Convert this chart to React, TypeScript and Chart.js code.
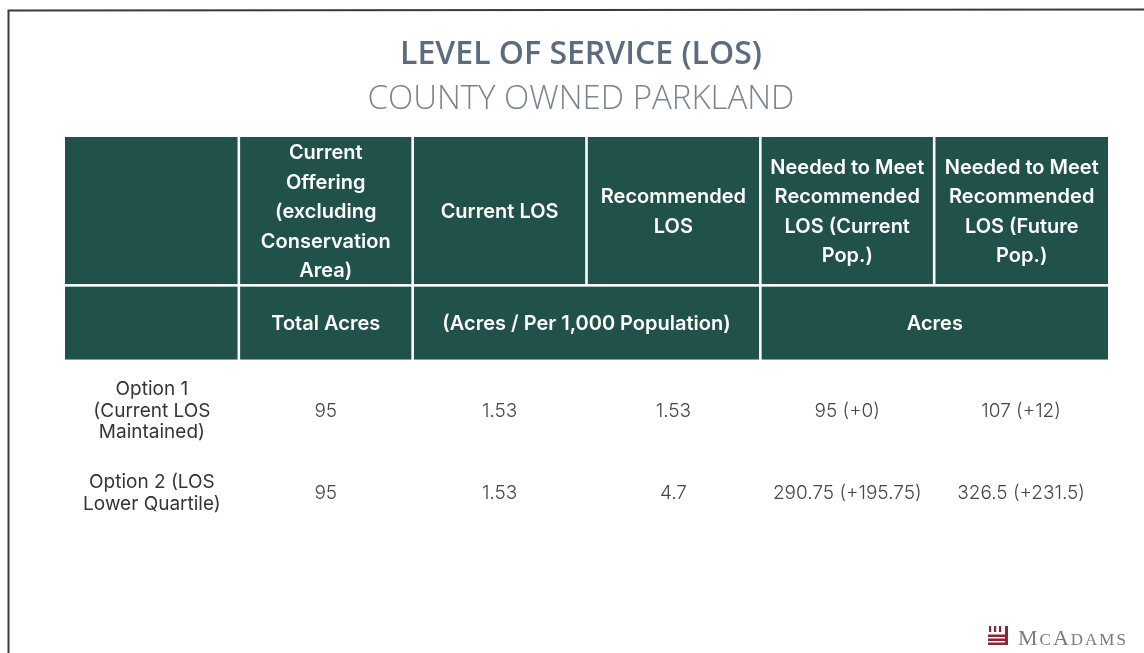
import React, { useEffect, useRef } from 'react';
import { Chart, registerables } from 'chart.js';

Chart.register(...registerables);

// ---------- data ----------
const titleText = 'LEVEL OF SERVICE (LOS)';
const subtitleText = 'COUNTY OWNED PARKLAND';

const headerLabels: string[][] = [
  [],
  ['Current', 'Offering', '(excluding', 'Conservation', 'Area)'],
  ['Current LOS'],
  ['Recommended', 'LOS'],
  ['Needed to Meet', 'Recommended', 'LOS (Current', 'Pop.)'],
  ['Needed to Meet', 'Recommended', 'LOS (Future', 'Pop.)'],
];
const unitLabels = ['', 'Total Acres', '(Acres / Per 1,000 Population)', 'Acres'];
const unitSpans = [1, 1, 2, 2];

const optionLabels: string[][] = [
  ['Option 1', '(Current LOS', 'Maintained)'],
  ['Option 2 (LOS', 'Lower Quartile)'],
];
const totalAcres = [95, 95];
const currentLOS = [1.53, 1.53];
const recommendedLOS = [1.53, 4.7];
const neededCurrentPop = [95, 290.75];
const neededCurrentPopDelta = [0, 195.75];
const neededFuturePop = [107, 326.5];
const neededFuturePopDelta = [12, 231.5];

const brandText = 'McAdams';

// ---------- layout (scale units) ----------
const COLS = 6;
const HEADER_ROW1 = [0, 2];
const HEADER_ROW2 = [2, 3];
const BODY_CENTERS = [3.694, 4.8];
const Y_MAX = 5.5;
const X_MIN = -0.0633;

const GREEN = '#20514a';
const HEADER_FONT = '600 20px Inter';
const HEADER_LINE = 29.5;
const LABEL_FONT = '400 19px Inter';
const VALUE_FONT = '300 19px Inter';
const BODY_LINE = 21.5;

function drawLines(ctx: CanvasRenderingContext2D, lines: string[], cx: number, cy: number, lh: number) {
  const start = cy - ((lines.length - 1) * lh) / 2;
  lines.forEach((l, i) => ctx.fillText(l, cx, start + i * lh));
}

const tablePlugin = {
  id: 'losTable',
  beforeDraw(chart: any) {
    const { ctx } = chart;
    ctx.save();
    ctx.fillStyle = '#ffffff';
    ctx.fillRect(0, 0, chart.width, chart.height);
    // page frame (scan border)
    ctx.strokeStyle = '#3a3a3a';
    ctx.lineWidth = 2;
    ctx.beginPath();
    ctx.moveTo(8.5, chart.height);
    ctx.lineTo(8.5, 10.5);
    ctx.lineTo(chart.width, 9.5);
    ctx.stroke();
    ctx.restore();
  },
  afterDraw(chart: any) {
    const { ctx } = chart;
    const x = chart.scales.x;
    const y = chart.scales.y;
    const g = 1.3;
    const cell = (c0: number, c1: number, r0: number, r1: number) => {
      const left = x.getPixelForValue(c0) + (c0 > 0 ? g : 0);
      const right = x.getPixelForValue(c1) - (c1 < COLS ? g : 0);
      const top = y.getPixelForValue(r0) + (r0 > 0 ? g : 0);
      const bottom = y.getPixelForValue(r1);
      return { left, right, top, bottom, cx: (left + right) / 2, cy: (top + bottom) / 2 };
    };
    ctx.save();
    ctx.textAlign = 'center';
    ctx.textBaseline = 'middle';
    // header row 1
    headerLabels.forEach((lines, i) => {
      const r = cell(i, i + 1, HEADER_ROW1[0], HEADER_ROW1[1]);
      ctx.fillStyle = GREEN;
      ctx.fillRect(r.left, r.top, r.right - r.left, r.bottom - r.top - g);
      ctx.fillStyle = '#ffffff';
      ctx.font = HEADER_FONT;
      drawLines(ctx, lines, r.cx, r.cy + 1, HEADER_LINE);
    });
    // header row 2 (units)
    let c = 0;
    unitLabels.forEach((label, i) => {
      const span = unitSpans[i];
      const r = cell(c, c + span, HEADER_ROW2[0], HEADER_ROW2[1]);
      ctx.fillStyle = GREEN;
      ctx.fillRect(r.left, r.top, r.right - r.left, r.bottom - r.top);
      ctx.fillStyle = '#ffffff';
      ctx.font = HEADER_FONT;
      ctx.fillText(label, r.cx, r.cy + 1);
      c += span;
    });
    // body rows
    optionLabels.forEach((lines, row) => {
      const cy = y.getPixelForValue(BODY_CENTERS[row]);
      const colX = (i: number) => x.getPixelForValue(i + 0.5);
      ctx.fillStyle = '#353535';
      ctx.font = LABEL_FONT;
      drawLines(ctx, lines, colX(0), cy, BODY_LINE);
      const values = [
        String(totalAcres[row]),
        String(currentLOS[row]),
        String(recommendedLOS[row]),
        `${neededCurrentPop[row]} (+${neededCurrentPopDelta[row]})`,
        `${neededFuturePop[row]} (+${neededFuturePopDelta[row]})`,
      ];
      ctx.fillStyle = '#474747';
      ctx.font = VALUE_FONT;
      values.forEach((v, i) => ctx.fillText(v, colX(i + 1), cy));
    });
    // brand mark
    ctx.fillStyle = '#8a2437';
    const bx = 988, by = 626;
    ctx.fillRect(bx + 1, by, 2.2, 6);
    ctx.fillRect(bx + 6, by, 2.2, 6);
    ctx.fillRect(bx + 11, by, 2.2, 6);
    ctx.fillRect(bx + 17, by, 3, 19);
    ctx.fillRect(bx, by + 8.5, 20, 2.5);
    ctx.fillRect(bx, by + 12.5, 20, 2.5);
    ctx.fillRect(bx, by + 16.5, 20, 2.5);
    // brand text (small caps)
    ctx.fillStyle = '#7a7a7a';
    ctx.textAlign = 'left';
    ctx.textBaseline = 'alphabetic';
    let tx = 1018;
    const base = 645;
    for (const ch of brandText) {
      const big = ch === ch.toUpperCase();
      ctx.font = big ? '400 22px "Liberation Serif"' : '400 17px "Liberation Serif"';
      const t = ch.toUpperCase();
      ctx.fillText(t, tx, base);
      tx += ctx.measureText(t).width + 2;
    }
    ctx.restore();
  },
};

export default function App() {
  const ref = useRef<HTMLCanvasElement | null>(null);
  useEffect(() => {
    if (!ref.current) return;
    const chart = new Chart(ref.current, {
      type: 'scatter',
      data: { datasets: [{ data: [], pointRadius: 0 }] },
      options: {
        animation: false,
        responsive: false,
        events: [],
        layout: { padding: { left: 54, right: 36, top: 0, bottom: 108 } },
        scales: {
          x: { type: 'linear', display: false, min: X_MIN, max: COLS },
          y: { type: 'linear', display: false, min: 0, max: Y_MAX, reverse: true },
        },
        plugins: {
          legend: { display: false },
          tooltip: { enabled: false },
          title: {
            display: true,
            text: titleText,
            color: '#5d6c7d',
            font: { family: '"Open Sans"', weight: '600', size: 32, lineHeight: '34px' },
            padding: { top: 38, bottom: 0 },
          },
          subtitle: {
            display: true,
            text: subtitleText,
            color: '#7b8591',
            font: { family: '"Open Sans"', weight: '300', size: 33, lineHeight: '34px' },
            padding: { top: 11, bottom: 20 },
          },
        },
      },
      plugins: [tablePlugin],
    });
    let alive = true;
    (document as any).fonts?.ready?.then(() => { if (alive) chart.update(); });
    return () => { alive = false; chart.destroy(); };
  }, []);
  return (
    <div style={{ position: 'fixed', left: 0, top: 0, width: 1144, height: 653, background: '#fff' }}>
      <canvas ref={ref} width={1144} height={653} style={{ display: 'block' }} />
    </div>
  );
}
